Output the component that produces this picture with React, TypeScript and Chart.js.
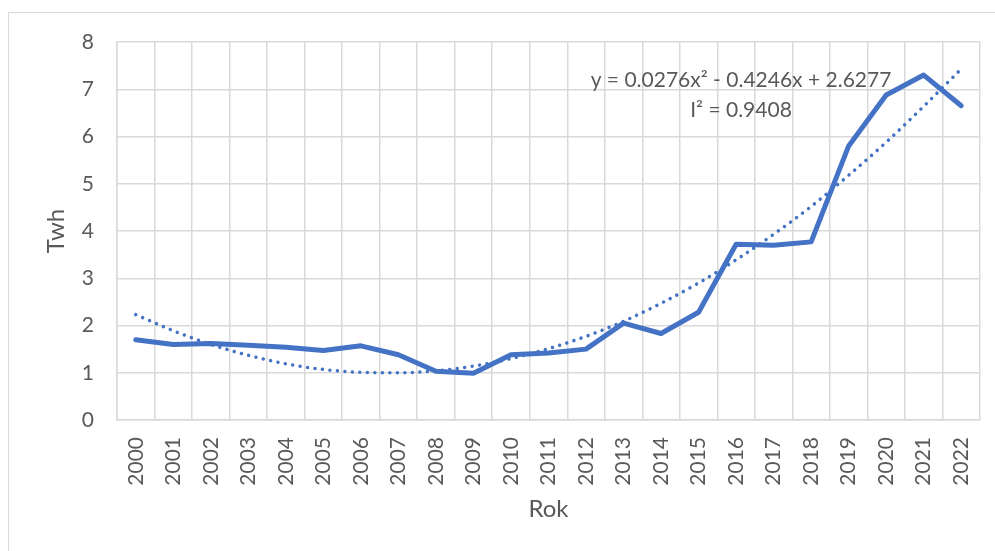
import React, { useEffect, useRef } from "react";
import { Chart, registerables } from "chart.js";

Chart.register(...registerables);

const years = ["2000","2001","2002","2003","2004","2005","2006","2007","2008","2009","2010","2011","2012","2013","2014","2015","2016","2017","2018","2019","2020","2021","2022"];
const twh = [1.70, 1.60, 1.62, 1.58, 1.54, 1.47, 1.57, 1.38, 1.03, 0.99, 1.38, 1.42, 1.50, 2.05, 1.83, 2.28, 3.72, 3.70, 3.77, 5.80, 6.88, 7.30, 6.65];
const trend = [2.23, 1.89, 1.60, 1.37, 1.19, 1.07, 1.01, 1.00, 1.04, 1.14, 1.30, 1.51, 1.77, 2.09, 2.47, 2.90, 3.39, 3.93, 4.52, 5.18, 5.88, 6.64, 7.43];
const yTicks = [0, 8];
const trendLabel = ["y = 0.0276x\u00B2 - 0.4246x + 2.6277", "I\u00B2 = 0.9408"];
const xTitle = "Rok";
const yTitle = "Twh";

const TEXT = "#595959";
const GRID = "#d9d9d9";
const BLUE = "#4472C4";
const FONT = "Lato";

const trendTextPlugin = {
  id: "trendText",
  afterDatasetsDraw(chart: any) {
    const ctx = chart.ctx;
    ctx.save();
    ctx.fillStyle = TEXT;
    ctx.font = `21px ${FONT}`;
    ctx.textAlign = "center";
    ctx.textBaseline = "alphabetic";
    ctx.fillText(trendLabel[0], 741, 87);
    ctx.fillText(trendLabel[1], 741, 117);
    ctx.restore();
  },
};

export default function App() {
  const ref = useRef<HTMLCanvasElement | null>(null);
  useEffect(() => {
    if (!ref.current) return;
    const chart = new Chart(ref.current, {
      type: "line",
      data: {
        labels: years,
        datasets: [
          {
            data: twh,
            borderColor: BLUE,
            borderWidth: 5,
            pointRadius: 0,
            tension: 0,
            borderCapStyle: "round",
            borderJoinStyle: "round",
            fill: false,
          },
          {
            data: trend,
            borderColor: BLUE,
            borderWidth: 3.5,
            borderDash: [0.01, 7.5],
            borderCapStyle: "round",
            pointRadius: 0,
            tension: 0.4,
            cubicInterpolationMode: "monotone",
            fill: false,
          },
        ],
      },
      options: {
        responsive: false,
        animation: false,
        layout: { padding: { top: 42, right: 15, left: 0, bottom: 0 } },
        plugins: { legend: { display: false }, tooltip: { enabled: false } },
        scales: {
          x: {
            offset: true,
            grid: { color: GRID, lineWidth: 1.5, offset: true, drawTicks: false },
            border: { color: GRID, width: 1.5 },
            ticks: {
              color: TEXT,
              font: { family: FONT, size: 21 },
              minRotation: 90,
              maxRotation: 90,
              autoSkip: false,
              padding: 17,
            },
            title: {
              display: true,
              text: xTitle,
              color: TEXT,
              font: { family: FONT, size: 24 },
              padding: { top: 0, bottom: 27 },
            },
            afterFit(scale: any) {
              scale.height = 131;
              scale.paddingLeft = 0;
              scale.paddingRight = 0;
            },
          },
          y: {
            min: yTicks[0],
            max: yTicks[1],
            ticks: {
              stepSize: 1,
              color: TEXT,
              font: { family: FONT, size: 21 },
              padding: 23,
            },
            grid: { color: GRID, lineWidth: 1.5, drawTicks: false },
            border: { color: GRID, width: 1.5 },
            title: {
              display: true,
              text: yTitle,
              color: TEXT,
              font: { family: FONT, size: 24 },
              padding: { top: 42, bottom: 0 },
            },
            afterFit(scale: any) {
              scale.width = 117;
              scale.paddingTop = 0;
              scale.paddingBottom = 0;
            },
          },
        },
      },
      plugins: [trendTextPlugin],
    } as any);
    return () => chart.destroy();
  }, []);

  return (
    <div style={{ position: "absolute", left: 0, top: 0, width: 995, height: 551, overflow: "hidden", background: "#fff" }}>
      <div style={{ position: "absolute", left: 8, top: 12, width: 1100, height: 700, border: "1px solid #d9d9d9" }} />
      <canvas ref={ref} width={995} height={551} style={{ position: "absolute", left: 0, top: 0 }} />
    </div>
  );
}
